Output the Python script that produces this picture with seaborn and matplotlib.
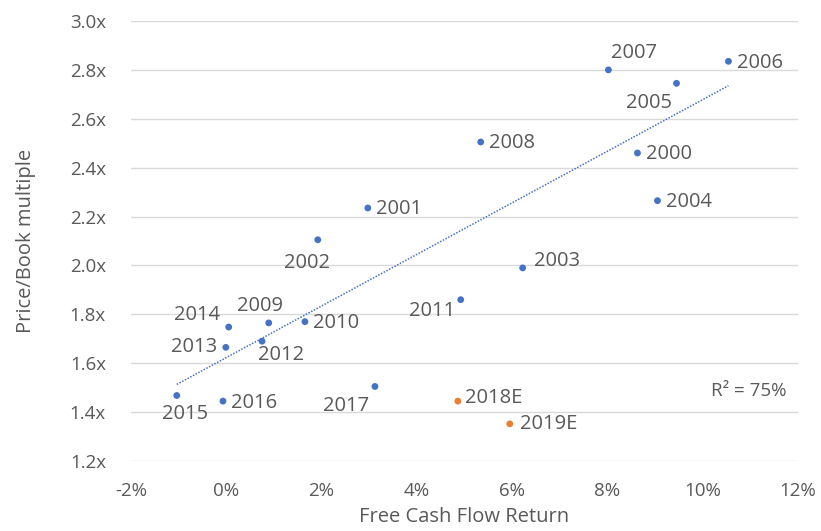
import numpy as np
import pandas as pd
import matplotlib
matplotlib.use("Agg")
import matplotlib.pyplot as plt
import seaborn as sns

years = ["2000", "2001", "2002", "2003", "2004", "2005", "2006", "2007", "2008",
         "2009", "2010", "2011", "2012", "2013", "2014", "2015", "2016", "2017",
         "2018E", "2019E"]
fcf_return = [8.63, 2.97, 1.92, 6.22, 9.05, 9.45, 10.54, 8.02, 5.34,
              0.89, 1.65, 4.92, 0.75, -0.01, 0.05, -1.04, -0.07, 3.12,
              4.86, 5.95]
price_book = [2.46, 2.235, 2.105, 1.99, 2.265, 2.745, 2.835, 2.80, 2.505,
              1.765, 1.77, 1.86, 1.69, 1.665, 1.748, 1.468, 1.445, 1.505,
              1.445, 1.352]
kind = ["Actual"] * 18 + ["Estimate"] * 2

# label offsets in points (dx, dy, ha, va)
offsets = {
    "2000": (6, -1, "left", "center"), "2001": (6, -1, "left", "center"),
    "2002": (-8, -17, "center", "center"), "2003": (8, 5, "left", "center"),
    "2004": (6, -1, "left", "center"), "2005": (-20, -14, "center", "center"),
    "2006": (6, -1, "left", "center"), "2007": (2, 12, "left", "center"),
    "2008": (6, -1, "left", "center"), "2009": (-6, 12, "center", "center"),
    "2010": (6, -1, "left", "center"), "2011": (-4, -8, "right", "center"),
    "2012": (-3, -10, "left", "center"), "2013": (-6, 0, "right", "center"),
    "2014": (-6, 9, "right", "center"), "2015": (6, -13, "center", "center"),
    "2016": (6, -1, "left", "center"), "2017": (-4, -14, "right", "center"),
    "2018E": (5, 2, "left", "center"), "2019E": (7, 0, "left", "center"),
}

df = pd.DataFrame({"year": years, "fcf": fcf_return, "pb": price_book, "kind": kind})

sns.set_theme(style="white")
plt.rcParams["font.family"] = ["Open Sans", "DejaVu Sans"]

fig = plt.figure(figsize=(8.21, 5.31), dpi=100)
ax = fig.add_axes([0.1596, 0.1318, 0.8124, 0.8287])

text_color = "#595959"
sns.scatterplot(data=df, x="fcf", y="pb", hue="kind",
                palette={"Actual": "#4472C4", "Estimate": "#ED7D31"},
                s=24, edgecolor="none", legend=False, ax=ax, zorder=3)

# trend line on actuals
act = df[df["kind"] == "Actual"]
coef = np.polyfit(act["fcf"], act["pb"], 1)
xs = np.array([act["fcf"].min(), act["fcf"].max()])
ax.plot(xs, np.polyval(coef, xs), linestyle=(0, (1, 1)), color="#4472C4", lw=1.1, zorder=2)

for _, r in df.iterrows():
    dx, dy, ha, va = offsets[r["year"]]
    ax.annotate(r["year"], (r["fcf"], r["pb"]), xytext=(dx, dy), textcoords="offset points",
                ha=ha, va=va, fontsize=14.5, color=text_color)

ax.text(11.75, 1.485, "R² = 75%", ha="right", va="center", fontsize=13.5, color=text_color)

ax.set_xlim(-2, 12)
ax.set_ylim(1.2, 3.0)
ax.set_xticks(np.arange(-2, 13, 2))
ax.set_xticklabels([f"{v}%" for v in range(-2, 13, 2)])
yt = np.round(np.arange(1.2, 3.01, 0.2), 1)
ax.set_yticks(yt)
ax.set_yticklabels([f"{v:.1f}x" for v in yt])
ax.tick_params(axis="y", length=0, labelsize=13.5, colors=text_color, pad=18)
ax.tick_params(axis="x", length=0, labelsize=13.5, colors=text_color, pad=15)
ax.grid(axis="y", color="#D9D9D9", lw=1)
ax.grid(axis="x", visible=False)
for s in ax.spines.values():
    s.set_visible(False)

ax.set_xlabel("Free Cash Flow Return", fontsize=14.5, color=text_color, labelpad=5)
ax.set_ylabel("Price/Book multiple", fontsize=14.5, color=text_color, labelpad=24)

fig.savefig("out.png", dpi=100)
